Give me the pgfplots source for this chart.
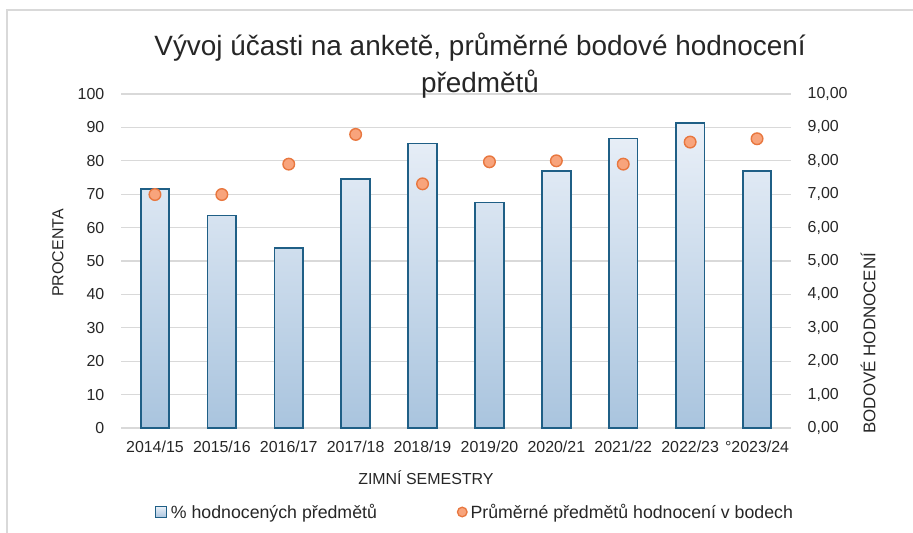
\documentclass[border=0pt]{standalone}
\usepackage{fontspec}
\setmainfont{Liberation Sans}
\usepackage{pgfplots}
\pgfplotsset{compat=1.18}
\definecolor{barTop}{HTML}{EAF0F8}
\definecolor{barBot}{HTML}{A9C4DE}
\definecolor{barEdge}{HTML}{1F5F86}
\definecolor{dotFill}{HTML}{F8A47C}
\definecolor{dotEdge}{HTML}{E8773F}
\definecolor{gridc}{HTML}{D9D9D9}
\definecolor{txt}{HTML}{262626}
\begin{document}
\begin{tikzpicture}
\useasboundingbox (-121.5bp,-105bp) rectangle (791.5bp,428bp);
\draw[gridc, line width=1.5bp] (-114.5bp,-105bp) -- (-114.5bp,418bp) -- (791.5bp,418bp);
\begin{axis}[
  at={(0,0)}, anchor=south west,
  scale only axis, width=669bp, height=334bp,
  xmin=-0.5, xmax=9.5, ymin=0, ymax=100,
  xtick={0,...,9},
  xticklabels={2014/15,2015/16,2016/17,2017/18,2018/19,2019/20,2020/21,2021/22,2022/23,°2023/24},
  ytick={0,10,...,100},
  axis line style={draw=none},
  major tick length=0pt,
  ymajorgrids, grid style={gridc, line width=1.2bp},
  tick label style={font=\fontsize{16}{19}\selectfont, text=txt},
  yticklabel style={anchor=east, inner sep=0pt, xshift=-17bp},
  xticklabel style={anchor=north, inner sep=0pt, yshift=-13bp},
  /pgf/number format/assume math mode=true,
  xlabel={ZIMNÍ SEMESTRY},
  xlabel style={at={(axis description cs:0.455,0)}, anchor=center, yshift=-50bp, font=\fontsize{16}{19}\selectfont, text=txt},
  ylabel={PROCENTA},
  ylabel style={at={(axis description cs:-0.095,0.524)}, anchor=center, font=\fontsize{16}{19}\selectfont, text=txt},
  title={Vývoj účasti na anketě, průměrné bodové hodnocení\\předmětů},
  title style={at={(axis description cs:0.536,1.091)}, anchor=center, align=center, yshift=-8bp, font=\fontsize{28}{38}\selectfont, text=txt},
  legend columns=2,
  legend style={draw=none, fill=none, at={(axis description cs:0.528,-0.2515)}, anchor=center,
    font=\fontsize{17.8}{20}\selectfont, text=txt, nodes={inner sep=1.5bp},
    /tikz/every odd column/.append style={column sep=2bp},
    /tikz/every even column/.append style={column sep=79bp}},
]
\draw[gridc, line width=1.6bp] (axis cs:-0.5,0) -- (axis cs:9.5,0);
\addplot[ybar, bar width=28.6bp, draw=barEdge, line width=1.8bp, top color=barTop, bottom color=barBot,
  legend image code/.code={\draw[draw=barEdge, line width=1.4bp, top color=barTop, bottom color=barBot] (0bp,-5.5bp) rectangle (11bp,5.5bp);}]
  coordinates {(0,71.6) (1,63.6) (2,53.8) (3,74.5) (4,85.2) (5,67.5) (6,77.0) (7,86.7) (8,91.4) (9,77.0)};
\addlegendentry{\% hodnocených předmětů}
\addlegendimage{only marks, mark=*, mark size=4.8bp, mark options={fill=dotFill, draw=dotEdge, line width=1.3bp}}
\addlegendentry{Průměrné předmětů hodnocení v bodech}
\end{axis}
\begin{axis}[
  at={(0,0)}, anchor=south west,
  scale only axis, width=669bp, height=334bp,
  xmin=-0.5, xmax=9.5, ymin=0, ymax=10,
  xtick=\empty,
  ytick={0,1,...,10},
  axis line style={draw=none},
  major tick length=0pt,
  yticklabel pos=right,
  tick label style={font=\fontsize{16}{19}\selectfont, text=txt},
  yticklabel style={anchor=west, inner sep=0pt, xshift=17bp,
    /pgf/number format/.cd, fixed, fixed zerofill, precision=2, use comma},
  /pgf/number format/assume math mode=true,
  ylabel={BODOVÉ HODNOCENÍ},
  ylabel style={at={(axis description cs:1.116,0.254)}, anchor=center, font=\fontsize{17}{19}\selectfont, text=txt},
]
\addplot[only marks, mark=*, mark size=5.8bp, mark options={fill=dotFill, draw=dotEdge, line width=1.4bp}]
  coordinates {(0,6.99) (1,6.99) (2,7.90) (3,8.79) (4,7.31) (5,7.97) (6,8.00) (7,7.90) (8,8.56) (9,8.66)};
\end{axis}
\end{tikzpicture}
\end{document}
